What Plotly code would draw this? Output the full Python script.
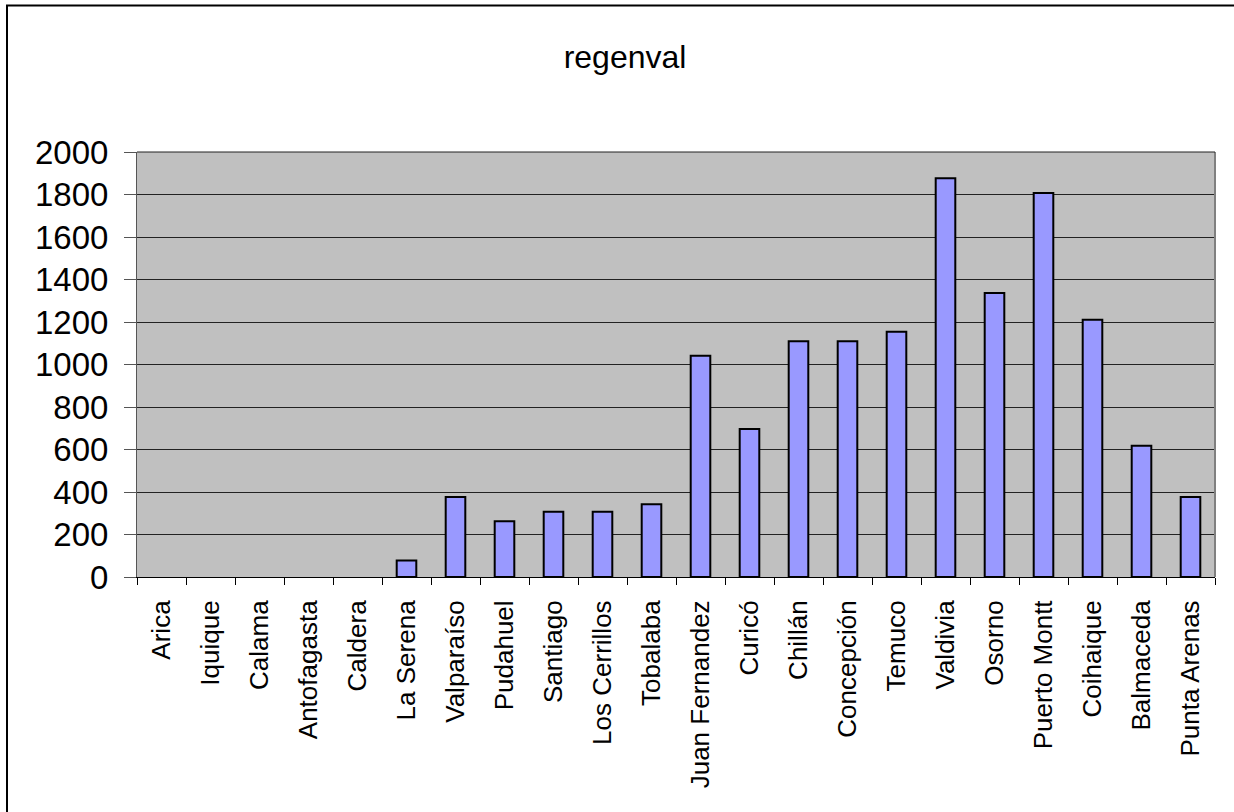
import plotly.graph_objects as go

# Stations, north to south
stations = [
    "Arica", "Iquique", "Calama", "Antofagasta", "Caldera", "La Serena",
    "Valparaíso", "Pudahuel", "Santiago", "Los Cerrillos", "Tobalaba",
    "Juan Fernandez", "Curicó", "Chillán", "Concepción", "Temuco",
    "Valdivia", "Osorno", "Puerto Montt", "Coihaique", "Balmaceda",
    "Punta Arenas",
]
regenval = [
    0, 0, 0, 0, 0, 78,
    377, 262, 307, 307, 342,
    1041, 696, 1109, 1109, 1154,
    1876, 1336, 1807, 1211, 618,
    376,
]
y_ticks = [0, 200, 400, 600, 800, 1000, 1200, 1400, 1600, 1800, 2000]

FONT = "Liberation Sans, Arial, sans-serif"

# Empty stations get no outline, so nothing is drawn for them
outline_widths = [2 if v > 0 else 0 for v in regenval]

fig = go.Figure(
    go.Bar(
        x=stations,
        y=regenval,
        marker=dict(color="#9999FF", line=dict(color="#000000", width=outline_widths)),
    )
)

fig.update_layout(
    width=1234,
    height=812,
    margin=dict(l=137, r=19, t=152, b=235),
    paper_bgcolor="#FFFFFF",
    plot_bgcolor="#C0C0C0",
    bargap=0.6,
    showlegend=False,
    font=dict(family=FONT, color="#000000"),
    title=dict(
        text="regenval",
        x=625 / 1234,
        xref="container",
        xanchor="center",
        y=1 - 57 / 812,
        yref="container",
        yanchor="middle",
        font=dict(family=FONT, size=32, color="#000000"),
    ),
)

fig.update_xaxes(
    type="category",
    tickangle=-90,
    tickfont=dict(family=FONT, size=26),
    ticks="outside",
    tickson="boundaries",
    ticklen=7,
    tickcolor="#000000",
    showline=True,
    linecolor="#000000",
    linewidth=1,
    showgrid=False,
    ticklabelstandoff=12,
)

fig.update_yaxes(
    range=[0, 2000],
    tickvals=y_ticks,
    tickfont=dict(family=FONT, size=33),
    ticks="outside",
    ticklen=12,
    tickcolor="#555555",
    showline=True,
    linecolor="#555555",
    linewidth=1,
    showgrid=True,
    gridcolor="#222222",
    gridwidth=1,
    zeroline=False,
    ticklabelstandoff=9,
)

# Plot-area frame on the right, and the outer chart border
fig.add_shape(type="line", xref="paper", yref="paper", x0=1, x1=1, y0=0, y1=1,
              line=dict(color="#808080", width=2))
fig.add_shape(type="line", xref="paper", yref="paper", x0=0, x1=1, y0=1, y1=1,
              line=dict(color="#222222", width=1))
pw, ph = 1234 - 137 - 19, 812 - 152 - 235
fig.add_shape(type="rect", xref="paper", yref="paper",
              x0=(7 - 137) / pw, x1=(1300 - 137) / pw,
              y0=-(900 - 577) / ph, y1=(577 - 5.5) / ph,
              line=dict(color="#000000", width=2), fillcolor="rgba(0,0,0,0)",
              layer="below")

fig.write_html("out.html")
